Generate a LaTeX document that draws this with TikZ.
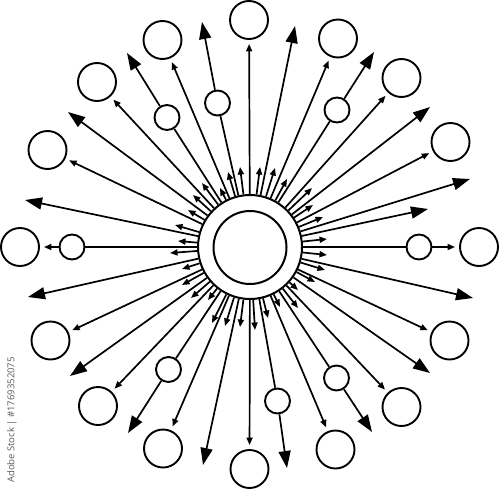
\documentclass[tikz,border=0pt]{standalone}
\usepackage{fontspec}
\newfontfamily\wmfont{Open Sans}
\usetikzlibrary{arrows.meta}
\begin{document}
\begin{tikzpicture}[x=1pt,y=-1pt,
  ray/.style={line width=1.7pt},
  barrow/.style={ray,-{Triangle[length=17pt,width=12pt]}},
  sarrow/.style={ray,-{Triangle[length=7.5pt,width=6pt]}},
  bigc/.style={circle,draw,line width=1.9pt,minimum size=38pt,inner sep=0pt},
  smallc/.style={circle,draw,line width=1.9pt,minimum size=25pt,inner sep=0pt}]
\useasboundingbox (0,0) rectangle (500,490);
% hub
\node[circle,draw,line width=2pt,minimum size=104pt,inner sep=0pt] (hub) at (250,247) {};
\node[circle,draw,line width=2pt,minimum size=73pt,inner sep=0pt] (core) at (250,247.5) {};
% big circles
\foreach \n/\x/\y in {c90/249/20, c113/162.5/40, c133/97/82, c154/47.5/150, c180/20/247,
  c205/50.5/340.5, c226/98/406, c246/163/448.5, c270/249.5/469, c293/335.5/449.5,
  c313/401.5/407, c335/449.5/340.5, c0/479/247, c28/450.5/142, c48/401.5/78, c67/338/38.5}
  {\node[bigc] (\n) at (\x,\y) {};}
% small circles
\foreach \n/\x/\y in {s102/217.5/103, s122/167/117.5, s57/337/110, s236/168.5/369.5,
  s280/277.5/401, s303/336.5/378, s180/72/247, s0/419/247}
  {\node[smallc] (\n) at (\x,\y) {};}
% arrow tips
\foreach \n/\x/\y in {a78/295/26, a38/430/107, a17/470/179, a12/428/209, a143/68/112,
  a168/25/200, a192/28/297, a215/70/376, a257/203/465, a325/430/373, a347/473/298,
  b102/202/22, b122/127/53, b57/374/52, b236/128/433, b280/287/468, b303/372/432}
  {\coordinate (\n) at (\x,\y);}
% rays to big circles
\foreach \n in {c90,c113,c133,c154,c205,c226,c246,c270,c293,c313,c335,c28,c48,c67}
  {\draw[sarrow,shorten >=4pt] (hub) -- (\n);}
% rays with big arrows
\foreach \n in {a78,a38,a17,a12,a143,a168,a192,a215,a257,a325,a347}
  {\draw[barrow] (hub) -- (\n);}
% rays through small circles to big arrows
\foreach \s/\t in {s102/b102, s122/b122, s57/b57, s236/b236, s280/b280, s303/b303}
  {\draw[ray] (hub) -- (\s); \draw[barrow] (\s) -- (\t);}
% horizontal rays
\foreach \s/\t in {s180/c180, s0/c0}
  {\draw[ray] (hub) -- (\s); \draw[sarrow,shorten >=4pt] (\s) -- (\t);}
% short arrows
\foreach \x/\y [count=\i] in {240/167, 228/172, 220/188, 202/183, 193/195, 188/210, 175/225, 178/241,
  260/167, 275/168, 287/179, 312/188, 313/205, 323/217, 327/239,
  170/253, 182/269, 182/285, 191/298, 208/300, 212/323, 225/326, 240/327,
  327/255, 325/270, 315/282, 298/290, 298/308, 280/307, 268/318, 255/330}
  {\coordinate (k\i) at (\x,\y); \draw[sarrow] (hub) -- (k\i);}
% watermark label
\node[rotate=90,anchor=west,inner sep=0pt,text=black!65,font=\wmfont\fontsize{9.5}{11}\selectfont] (wm) at (12,483) {Adobe Stock | \#1769352075};
\end{tikzpicture}
\end{document}
